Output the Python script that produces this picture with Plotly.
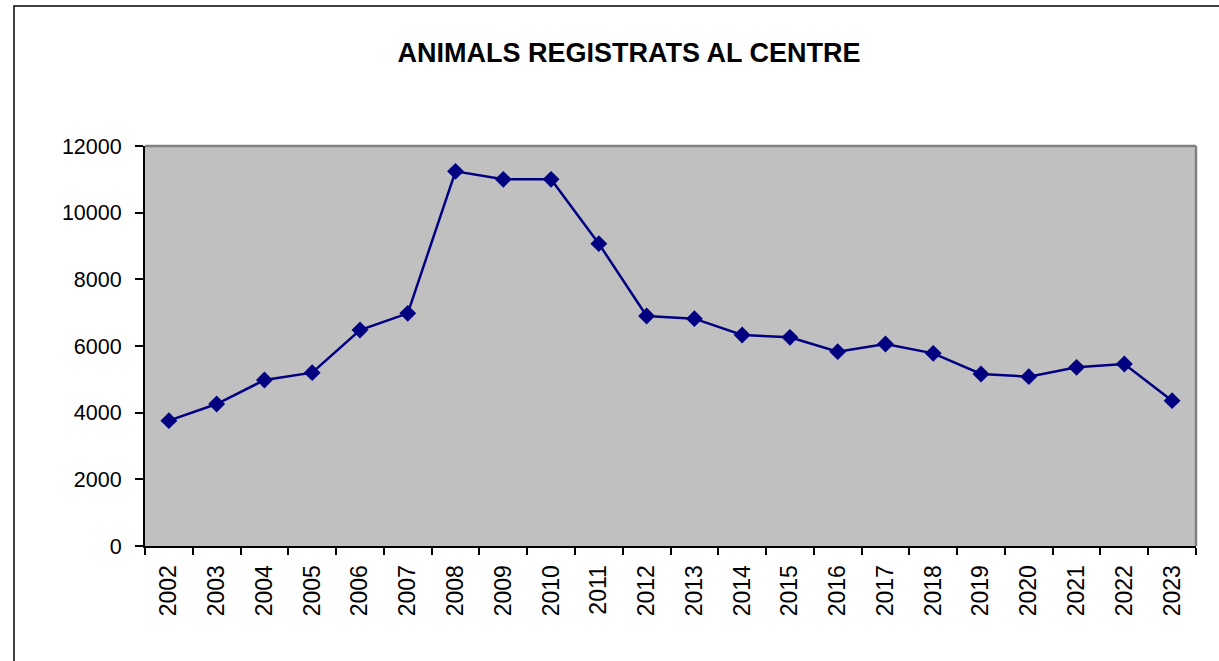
import plotly.graph_objects as go

years = [str(y) for y in range(2002, 2024)]
animals = [3760, 4260, 4980, 5200, 6480, 6980, 11240, 11000, 11000, 9070,
           6900, 6820, 6330, 6260, 5830, 6060, 5780, 5160, 5080, 5360, 5460, 4360]
y_ticks = [0, 2000, 4000, 6000, 8000, 10000, 12000]
title_text = "ANIMALS REGISTRATS AL CENTRE"

W, H = 1219, 661
L, R, T, B = 145, 23, 146, 115
pw, ph = W - L - R, H - T - B
FONT = "Liberation Sans, Arial, sans-serif"

fig = go.Figure()
fig.add_trace(go.Scatter(
    x=years, y=animals, mode="lines+markers",
    line=dict(color="#000080", width=2.5),
    marker=dict(symbol="diamond", size=13, color="#000080"),
    showlegend=False, hoverinfo="x+y",
))

fig.update_layout(
    width=W, height=H,
    margin=dict(l=L, r=R, t=T, b=B, pad=0),
    paper_bgcolor="white",
    plot_bgcolor="#C0C0C0",
    font=dict(family=FONT, color="black", size=21),
    title=dict(text="<b>" + title_text + "</b>", xref="container", yref="container",
               x=629 / W, y=1 - 53 / H, xanchor="center", yanchor="middle",
               font=dict(size=27, color="black", family=FONT)),
    xaxis=dict(
        type="category", tickson="boundaries", ticks="outside", ticklen=7,
        tickcolor="black", tickwidth=1.5, showline=True, linecolor="black", linewidth=2,
        tickangle=-90, showgrid=False, zeroline=False,
        tickfont=dict(size=23), ticklabelstandoff=8, range=[-0.5, len(years) - 0.5],
    ),
    yaxis=dict(
        range=[0, 12000], tickvals=y_ticks, ticktext=[str(v) for v in y_ticks],
        ticks="outside", ticklen=8, tickcolor="black", tickwidth=1.5,
        showline=True, linecolor="black", linewidth=2, showgrid=False, zeroline=False,
        tickfont=dict(size=21.5), ticklabelstandoff=9,
    ),
    shapes=[
        dict(type="line", xref="paper", yref="paper", x0=0, x1=1, y0=1, y1=1,
             line=dict(color="#808080", width=2.5), layer="above"),
        dict(type="line", xref="paper", yref="paper", x0=1, x1=1, y0=0, y1=1,
             line=dict(color="#808080", width=2.5), layer="above"),
        dict(type="rect", xref="paper", yref="paper",
             x0=(14 - L) / pw, x1=1.3, y0=-0.6, y1=(H - B - 6) / ph,
             line=dict(color="black", width=1.5), fillcolor="rgba(0,0,0,0)", layer="below"),
    ],
)

fig.write_html("out.html", config={"displayModeBar": False},
               post_script="document.body.style.margin='0';")
